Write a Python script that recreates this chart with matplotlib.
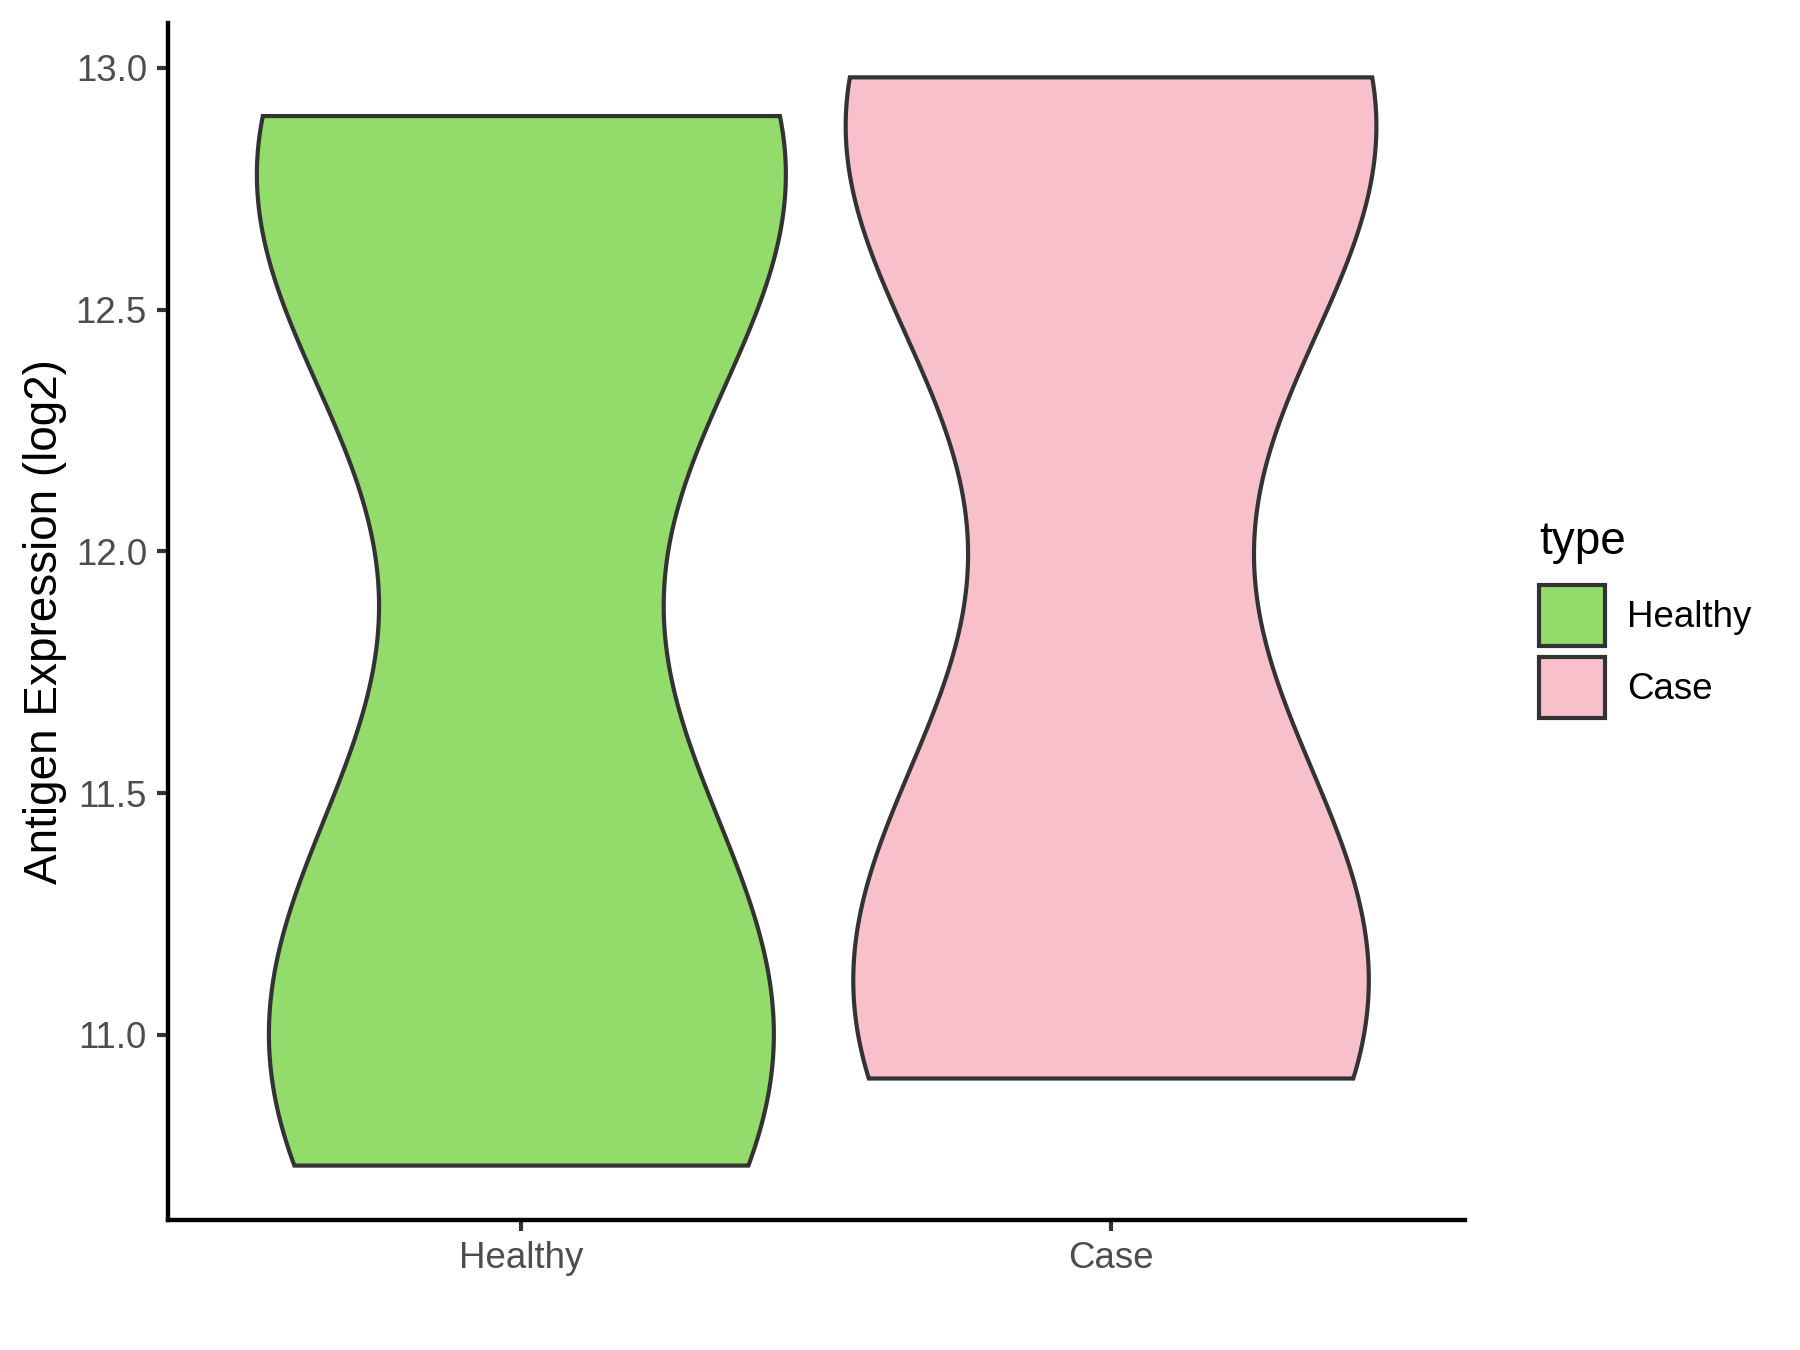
import matplotlib.pyplot as plt
import numpy as np
from matplotlib.patches import Patch

plt.rcParams["font.family"] = ["Liberation Sans", "DejaVu Sans"]

groups = ["Healthy", "Case"]
colors = ["#93DB6A", "#F7C0CB"]
healthy_vals = [10.73, 11.03, 11.20, 12.65, 12.82, 12.90]
case_vals = [10.91, 11.10, 11.30, 12.76, 12.93, 12.98]
bandwidth = 0.54
y_ticks = [11.0, 11.5, 12.0, 12.5, 13.0]


def kde(vals, bw, n=512):
    vals = np.asarray(vals)
    grid = np.linspace(vals.min(), vals.max(), n)
    dens = np.exp(-0.5 * ((grid[:, None] - vals[None, :]) / bw) ** 2).sum(axis=1)
    dens /= len(vals) * bw * np.sqrt(2 * np.pi)
    return grid, dens


curves = [kde(v, bandwidth) for v in (healthy_vals, case_vals)]
dmax = max(d.max() for _, d in curves)

fig = plt.figure(figsize=(6, 4.5), dpi=300)
ax = fig.add_axes([0.0931, 0.0963, 0.7207, 0.8867])

for i, ((grid, dens), col) in enumerate(zip(curves, colors)):
    half = 0.45 * dens / dmax
    xs = np.concatenate([i + 1 - half, (i + 1 + half)[::-1], [i + 1 - half[0]]])
    ys = np.concatenate([grid, grid[::-1], [grid[0]]])
    ax.fill(xs, ys, facecolor=col, edgecolor="#333333", linewidth=1.0)

allv = np.concatenate([healthy_vals, case_vals])
rng = allv.max() - allv.min()
ax.set_ylim(allv.min() - 0.05 * rng, allv.max() + 0.05 * rng)
ax.set_xlim(0.4, 2.6)
ax.set_xticks([1, 2])
ax.set_xticklabels(groups)
ax.set_yticks(y_ticks)
ax.set_yticklabels([f"{t:.1f}" for t in y_ticks])
ax.tick_params(colors="#333333", labelcolor="#4D4D4D", labelsize=8.8,
               length=2.75, width=1.0, pad=2.2)
for s in ["top", "right"]:
    ax.spines[s].set_visible(False)
for s in ["left", "bottom"]:
    ax.spines[s].set_linewidth(1.05)
ax.set_ylabel("Antigen Expression (log2)", fontsize=11, labelpad=2)

handles = [Patch(facecolor=c, edgecolor="#333333", linewidth=1.0, label=g)
           for g, c in zip(groups, colors)]
leg = fig.legend(handles=handles, title="type", loc="upper left",
                 bbox_to_anchor=(0.855, 0.615), frameon=False, fontsize=8.8,
                 title_fontsize=11, handlelength=1.8, handleheight=2.2,
                 handletextpad=0.6, labelspacing=0.3, borderpad=0,
                 borderaxespad=0)
leg._legend_box.align = "left"
leg._legend_box.sep = 5

fig.savefig("out.png", dpi=300)
